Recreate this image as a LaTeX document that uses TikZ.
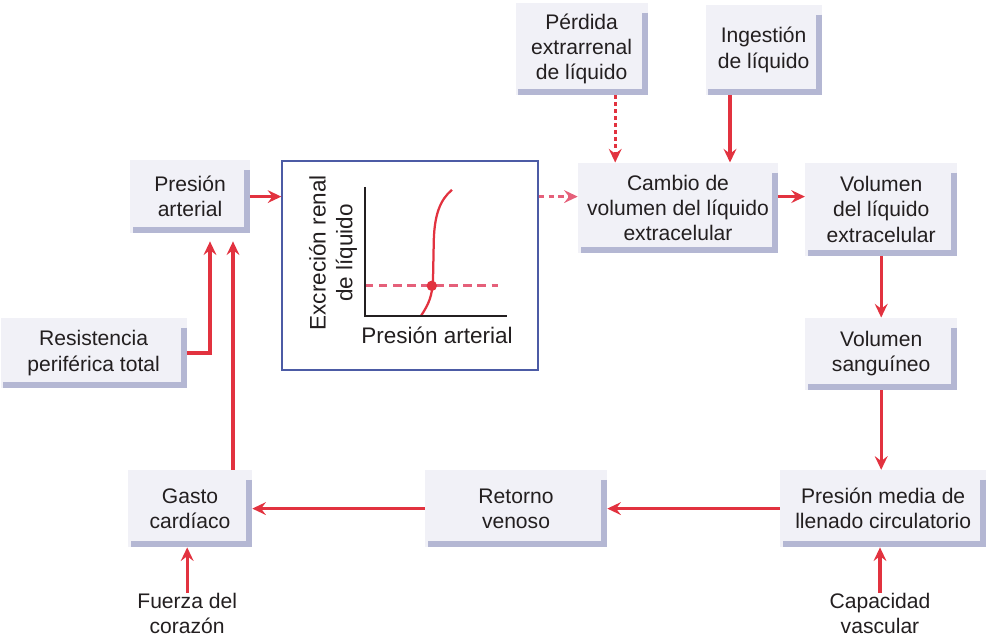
\documentclass[tikz,border=0pt]{standalone}
\usepackage{fontspec}
\setmainfont{Liberation Sans}
\usetikzlibrary{arrows.meta,positioning,calc}
\definecolor{rd}{HTML}{E2323F}
\definecolor{pnk}{HTML}{E5607A}
\definecolor{bxfill}{HTML}{F1F1F7}
\definecolor{shdc}{HTML}{B4B7D3}
\definecolor{gblue}{HTML}{4C5BA5}
\definecolor{txt}{HTML}{231F20}
\newcommand{\bxf}{\fontsize{15}{18}\selectfont}
\newcommand{\grf}{\fontsize{16}{19}\selectfont}

\begin{document}
\begin{tikzpicture}[
  font=\bxf, text=txt,
  bx/.style  = {fill=bxfill, align=center, inner sep=0pt},
  lbl/.style = {align=center, inner sep=0pt},
  shd/.style = {draw=shdc, line width=0.15cm},
  ar/.style  = {-{Stealth[length=3.4mm,width=3.2mm,inset=1.2mm]}, line width=2.2pt, draw=rd},
  dar/.style = {ar, draw=pnk, dash pattern=on 4pt off 3pt},
  ddt/.style = {ar, dash pattern=on 2.5pt off 2.5pt}
]
\useasboundingbox (0,0) rectangle (24.675,15.925);

% ---------- boxes -------------------------------------------------------
\node[bx, minimum width=30mm, minimum height=18.25mm] (presion) at (4.75,11.01) {Presión\\arterial};
\node[bx, minimum width=46.5mm, minimum height=17.5mm] (resistencia) at (2.34,7.1) {Resistencia\\periférica total};
\node[bx, minimum width=31mm, minimum height=19.25mm] (gasto) at (4.75,3.21) {Gasto\\cardíaco};
\node[bx, minimum width=45.5mm, minimum height=19.25mm] (retorno) at (12.9,3.21) {Retorno\\venoso};
\node[bx, minimum width=51.5mm, minimum height=19.25mm] (pmlc) at (22.08,3.21) {Presión media de\\llenado circulatorio};
\node[bx, minimum width=38mm, minimum height=18mm] (volsang) at (22.03,7.08) {Volumen\\sanguíneo};
\node[bx, minimum width=38mm, minimum height=23.25mm] (volecf) at (22.03,10.69) {Volumen\\del líquido\\extracelular};
\node[bx, minimum width=50mm, minimum height=22.5mm] (cambio) at (16.95,10.73) {Cambio de\\volumen del líquido\\extracelular};
\node[bx, minimum width=33mm, minimum height=23mm] (perdida) at (14.54,14.7) {Pérdida\\extrarrenal\\de líquido};
\node[bx, minimum width=29mm, minimum height=22.5mm] (ingestion) at (19.09,14.68) {Ingestión\\de líquido};

\foreach \n in {presion,resistencia,gasto,retorno,pmlc,volsang,volecf,cambio,perdida,ingestion}{
  \draw[shd] ($(\n.north east)+(-0.075,-0.25)$) |- ($(\n.south west)+(0.075,0.075)$);}

\node[lbl] (fuerza) at (4.68,0.58) {Fuerza del\\corazón};
\node[lbl] (capacidad) at (22.0,0.58) {Capacidad\\vascular};

% ---------- renal output curve ------------------------------------------
\node[draw=gblue, line width=1pt, fill=white, minimum width=64mm, minimum height=52.25mm] (graph) at (10.25,9.29) {};
\coordinate (org) at ($(graph.center)+(-1.125,-1.26)$);
\draw[pnk, line width=2pt, dash pattern=on 6pt off 4pt] (org) ++(0,0.75) -- ++(3.325,0);
\draw[rd, line width=1.6pt] ($(org)+(1.4,0)$) .. controls ($(org)+(1.6,0.3)$) and ($(org)+(1.68,0.5)$) .. ($(org)+(1.7,0.9)$)
  -- ($(org)+(1.72,1.9)$) .. controls ($(org)+(1.74,2.525)$) and ($(org)+(1.875,2.9)$) .. ($(org)+(2.175,3.15)$);
\fill[rd] ($(org)+(1.67,0.75)$) circle (0.13);
\draw[txt, line width=1.5pt] ($(org)+(0,3.225)$) -- (org) -- ++(3.55,0);
\node[lbl, font=\grf, rotate=90] (ylab) at ($(org)+(-0.8,1.575)$) {Excreción renal\\de líquido};
\node[lbl, font=\grf] (xlab) at ($(org)+(1.8,-0.5)$) {Presión arterial};

% ---------- arrows ------------------------------------------------------
\draw[ar] (presion.east) -- (graph.west |- presion.east);
\draw[dar] (graph.east |- presion.east) -- (cambio.west |- presion.east);
\draw[ddt] ([xshift=8.4mm]perdida.south) -- ([xshift=8.4mm]perdida.south |- cambio.north);
\draw[ar] ([xshift=-8.4mm]ingestion.south) -- ([xshift=-8.4mm]ingestion.south |- cambio.north);
\draw[ar] (cambio.east |- presion.east) -- (volecf.west |- presion.east);
\draw[ar] (volecf.south) -- (volecf.south |- volsang.north);
\draw[ar] (volsang.south) -- (volsang.south |- pmlc.north);
\draw[ar] (capacidad.north) -- (capacidad.north |- pmlc.south);
\draw[ar] (pmlc.west) -- (retorno.east);
\draw[ar] (retorno.west) -- (gasto.east);
\draw[ar] (fuerza.north) -- (fuerza.north |- gasto.south);
\draw[ar, shorten >=2mm] ([xshift=10.75mm]gasto.north) -- ([xshift=10.75mm]gasto.north |- presion.south);
\draw[ar, shorten >=2mm] (resistencia.east) -| ([xshift=5mm]gasto.north |- presion.south);

\end{tikzpicture}
\end{document}
